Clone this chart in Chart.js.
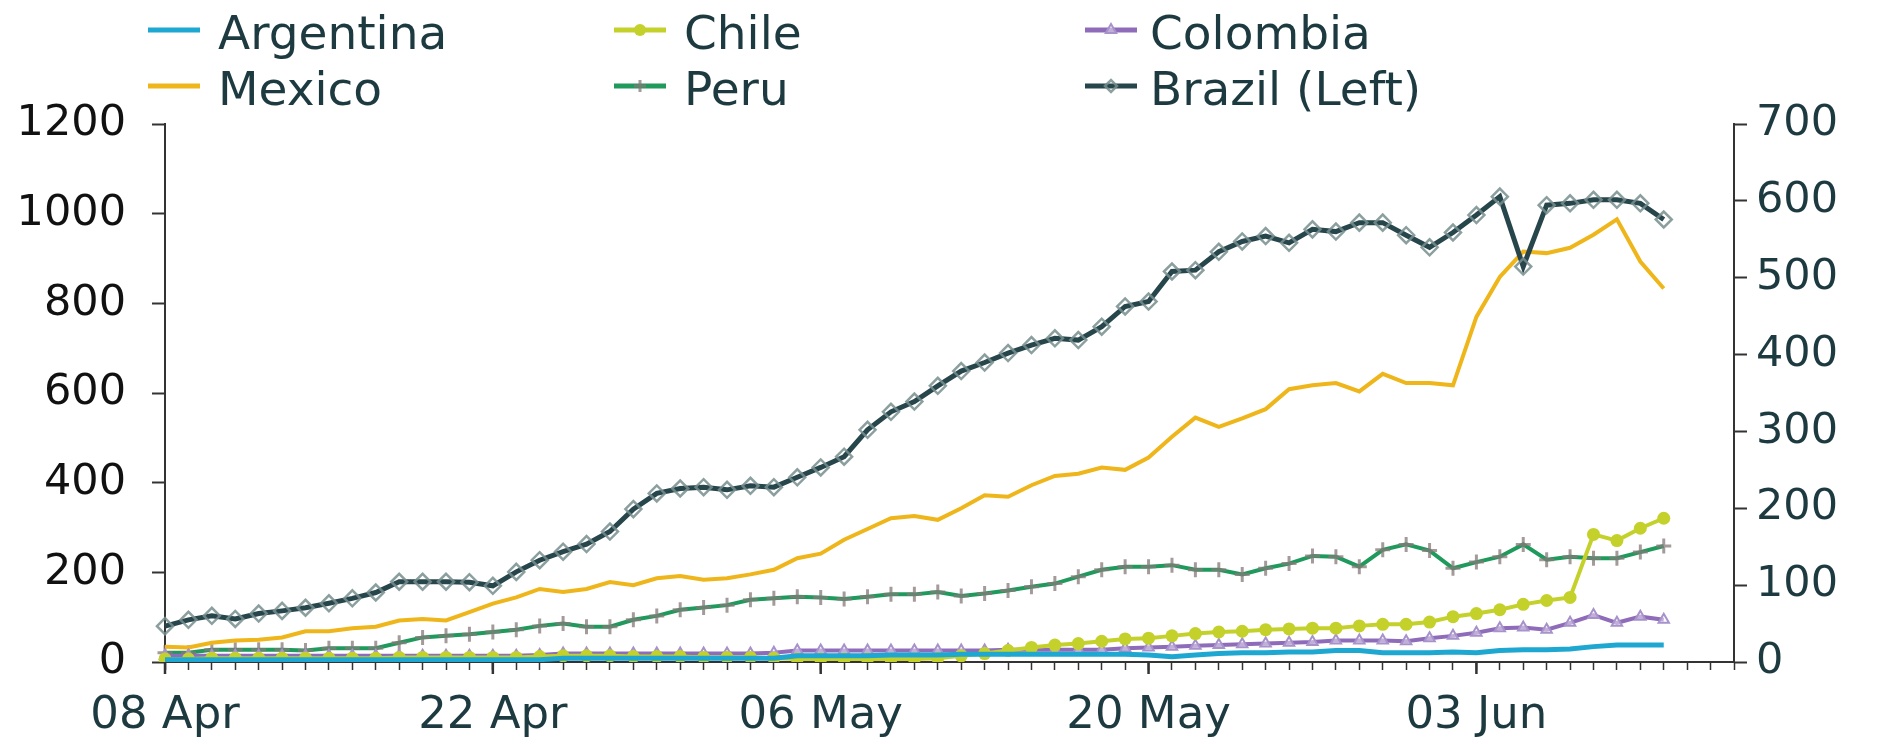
<!DOCTYPE html>
<html>
<head>
<meta charset="utf-8">
<script src="https://cdn.jsdelivr.net/npm/chart.js@4.4.1/dist/chart.umd.min.js"></script>
<style>
html,body{margin:0;padding:0;background:#fff;}
#wrap{width:1892px;height:744px;}
</style>
</head>
<body>
<div id="wrap"><canvas id="c" width="1892" height="744"></canvas></div>
<script>
// ---- categories (daily, 08 Apr – 14 Jun) ----
const months = ['Apr','May','Jun'];
const dates = [];
(function(){
  const start = new Date(2020, 3, 8);
  for (let i = 0; i < 68; i++) {
    const d = new Date(start.getTime() + i * 86400000);
    dates.push(String(d.getDate()).padStart(2,'0') + ' ' + months[d.getMonth()-3]);
  }
})();
const tickEvery = 14;

// ---- series (right axis unless noted) ----
const argentina = [3,3,3,3,3,3,3,3,3,3, 3,3,3,3,3,3,3,5,5,5, 5,5,5,5,5,5,5,8,8,8, 8,9,9,9,10,10,10,10,10,10, 10,10,9,7,9,11,12,12,13,13, 15,15,12,12,12,13,12,15,16,16, 17,20,22,22,22];
const chile     = [4,4,5,5,5,5,5,5,5,5, 6,6,6,6,6,6,7,8,8,8, 7,7,7,6,6,6,5,4,4,4, 4,4,4,5,8,11,15,19,22,24, 27,30,31,34,37,39,40,42,43,44, 44,47,49,49,52,59,63,68,75,80, 84,166,158,174,187];
const colombia  = [8,8,8,8,8,8,8,8,8,8, 8,8,8,8,8,8,9,11,11,11, 11,11,11,11,11,11,12,15,15,15, 15,15,15,15,15,15,16,16,16,16, 16,18,19,20,21,22,23,24,25,26, 28,28,28,27,31,34,38,44,45,42, 51,61,51,59,55];
const mexico    = [20,19,25,28,29,32,40,40,44,46, 54,56,54,65,76,84,95,91,95,104, 100,109,112,107,109,114,120,135,141,159, 173,187,190,185,200,217,215,230,242,245, 253,250,266,293,318,306,317,329,355,360, 363,352,375,363,363,360,449,501,534,532, 539,556,576,521,486];
const peru      = [12,12,16,16,16,16,15,18,18,18, 25,32,34,36,39,42,47,50,46,46, 55,60,68,71,74,81,83,85,84,82, 85,88,88,91,86,89,93,98,102,111, 120,124,124,126,120,120,114,122,128,138, 137,124,146,153,145,122,130,137,153,133, 137,135,135,143,151];
// left axis
const brazil    = [80,94,103,96,108,114,121,131,142,155, 179,179,179,178,170,201,227,246,263,291, 341,376,387,390,384,393,390,412,434,458, 518,558,581,616,649,668,689,707,722,718, 748,793,804,871,874,915,938,950,935,965, 960,980,980,952,925,958,997,1038,882,1019, 1023,1031,1031,1023,987];

const leftTicks = {min:0, max:1200, step:200};
const rightTicks = {min:0, max:700, step:100};

const FONT = '"DejaVu Sans", Arial, sans-serif';
const SLATE = '#1d3a40';
const AXIS = '#333333';

const datasets = [
  {label:'Argentina', data:argentina, yAxisID:'yR', borderColor:'#1ea8d1', borderWidth:5, pointRadius:0, order:1},
  {label:'Chile', data:chile, yAxisID:'yR', borderColor:'#c5d12b', borderWidth:4, pointStyle:'circle', pointRadius:6.5,
    pointBackgroundColor:'#c5d12b', pointBorderColor:'#c5d12b', pointBorderWidth:0, order:1},
  {label:'Colombia', data:colombia, yAxisID:'yR', borderColor:'#8e6cba', borderWidth:4, pointStyle:'triangle', pointRadius:6,
    pointBackgroundColor:'rgba(255,255,255,0.45)', pointBorderColor:'#a792cb', pointBorderWidth:2, order:1},
  {label:'Mexico', data:mexico, yAxisID:'yR', borderColor:'#efb61b', borderWidth:4, pointRadius:0, order:1},
  {label:'Peru', data:peru, yAxisID:'yR', borderColor:'#1f9a5c', borderWidth:4, pointStyle:'cross', pointRadius:7.5,
    pointBorderColor:'rgba(135,120,120,0.75)', pointBorderWidth:3, order:1},
  {label:'Brazil (Left)', data:brazil, yAxisID:'yL', borderColor:'#27464b', borderWidth:5, pointStyle:'rectRot', pointRadius:8,
    pointBackgroundColor:'rgba(0,0,0,0)', pointBorderColor:'rgba(120,142,142,0.85)', pointBorderWidth:2.5, order:0}
];
datasets.forEach(d => { d.tension = 0; d.fill = false; d.pointHoverRadius = d.pointRadius; });

// custom two-row legend drawn with the library's point helper
const legendPlugin = {
  id:'gridLegend',
  afterDraw(chart){
    const ctx = chart.ctx;
    const colLine = [148, 614, 1085];
    const colText = [218, 684, 1150];
    const rowY = [37, 93];
    chart.data.datasets.forEach((ds, i) => {
      const col = i % 3, row = Math.floor(i / 3);
      const y = rowY[row];
      const ly = y - 7;
      ctx.save();
      ctx.strokeStyle = ds.borderColor;
      ctx.lineWidth = 5;
      ctx.lineCap = 'butt';
      ctx.beginPath();
      ctx.moveTo(colLine[col], ly);
      ctx.lineTo(colLine[col] + 52, ly);
      ctx.stroke();
      if (ds.pointRadius > 0) {
        ctx.fillStyle = ds.pointBackgroundColor || ds.borderColor;
        ctx.strokeStyle = ds.pointBorderColor || ds.borderColor;
        ctx.lineWidth = ds.pointBorderWidth;
        const opts = {pointStyle: ds.pointStyle, radius: Math.min(ds.pointRadius, 6), rotation: 0, borderWidth: ds.pointBorderWidth};
        if (Chart.helpers && Chart.helpers.drawPoint) {
          Chart.helpers.drawPoint(ctx, opts, colLine[col] + 26, ly);
        }
      }
      ctx.fillStyle = SLATE;
      ctx.font = '47px ' + FONT;
      ctx.textBaseline = 'middle';
      ctx.textAlign = 'left';
      ctx.fillText(ds.label, colText[col], y);
      ctx.restore();
    });
  }
};

// longer tick marks at labelled dates
const majorTickPlugin = {
  id:'majorTicks',
  afterDraw(chart){
    const x = chart.scales.x, ctx = chart.ctx;
    ctx.save();
    ctx.strokeStyle = AXIS;
    ctx.lineWidth = 2.5;
    for (let i = 0; i < dates.length; i += tickEvery) {
      const px = x.getPixelForValue(i);
      ctx.beginPath();
      ctx.moveTo(px, chart.chartArea.bottom);
      ctx.lineTo(px, chart.chartArea.bottom + 12);
      ctx.stroke();
    }
    ctx.restore();
  }
};

new Chart(document.getElementById('c'), {
  type:'line',
  data:{labels:dates, datasets:datasets},
  plugins:[legendPlugin, majorTickPlugin],
  options:{
    responsive:false,
    animation:false,
    devicePixelRatio:1,
    layout:{padding:{top:124, left:0, right:0, bottom:0}},
    plugins:{legend:{display:false}, tooltip:{enabled:false}},
    scales:{
      x:{
        type:'category',
        offset:false,
        afterFit(s){ s.height = 82; },
        grid:{display:true, drawOnChartArea:false, drawTicks:true, tickLength:8, tickColor:AXIS, tickWidth:1.5},
        border:{display:true, color:AXIS, width:2},
        ticks:{autoSkip:false, maxRotation:0, minRotation:0, padding:19, color:SLATE,
          font:{family:FONT, size:45},
          callback:(v, i) => (i % tickEvery === 0 ? dates[i] : '')}
      },
      yL:{
        type:'linear', position:'left',
        min:leftTicks.min, max:leftTicks.max,
        afterFit(s){ s.width = 165; },
        grid:{display:true, drawOnChartArea:false, tickLength:13, tickColor:AXIS, tickWidth:2},
        border:{display:true, color:AXIS, width:2},
        ticks:{stepSize:leftTicks.step, padding:26, color:'#111111', font:{family:FONT, size:43},
          callback:(v) => String(v)}
      },
      yR:{
        type:'linear', position:'right',
        min:rightTicks.min, max:rightTicks.max,
        afterFit(s){ s.width = 158; },
        grid:{display:true, drawOnChartArea:false, tickLength:13, tickColor:AXIS, tickWidth:2},
        border:{display:true, color:AXIS, width:2},
        ticks:{stepSize:rightTicks.step, padding:9, color:SLATE, font:{family:FONT, size:43},
          callback:(v) => String(v)}
      }
    }
  }
});
</script>
</body>
</html>
